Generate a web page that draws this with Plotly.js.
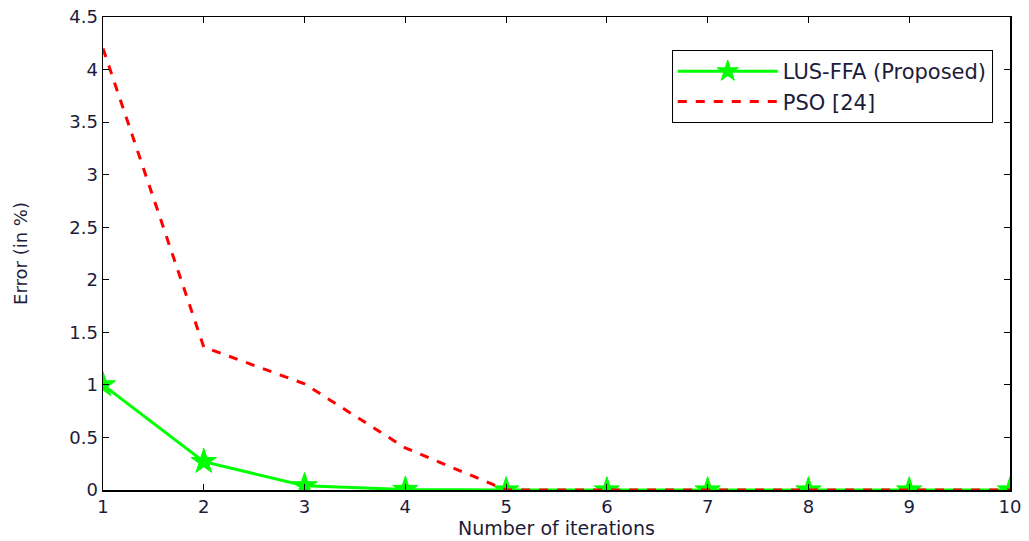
<!DOCTYPE html>
<html>
<head>
<meta charset="utf-8">
<script src="https://cdn.plot.ly/plotly-3.0.1.min.js"></script>
<style>html,body{margin:0;padding:0;background:#fff;}#chart{width:1029px;height:541px;}</style>
</head>
<body>
<div id="chart"></div>
<script>
const iterations = [1, 2, 3, 4, 5, 6, 7, 8, 9, 10];
const lusFfaError = [1.0, 0.27, 0.04, 0.005, 0, 0, 0, 0, 0, 0];
const psoError = [4.2, 1.36, 1.01, 0.4, 0, 0, 0, 0, 0, 0];
const seriesNames = ["LUS-FFA (Proposed)", "PSO [24]"];
const yTicks = [0, 0.5, 1, 1.5, 2, 2.5, 3, 3.5, 4, 4.5];
const yTickText = ["0", "0.5", "1", "1.5", "2", "2.5", "3", "3.5", "4", "4.5"];

const fontFam = "DejaVu Sans, Verdana, sans-serif";
const textColor = "#1c1c3a";

const traces = [
  {
    x: iterations, y: lusFfaError, name: seriesNames[0],
    type: "scatter", mode: "lines+markers",
    line: {color: "#00ff00", width: 3},
    marker: {symbol: "star", size: 19, color: "#00ff00", line: {color: "#00ff00", width: 1}}
  },
  {
    x: iterations, y: psoError, name: seriesNames[1],
    type: "scatter", mode: "lines",
    line: {color: "#ff0000", width: 3, dash: "dash"}
  }
];

const layout = {
  width: 1029, height: 541,
  margin: {l: 103, r: 19, t: 17, b: 51},
  paper_bgcolor: "#ffffff", plot_bgcolor: "#ffffff",
  font: {family: fontFam, size: 18, color: textColor},
  showlegend: true,
  legend: {
    x: 0.981, y: 0.93, xanchor: "right", yanchor: "top",
    bgcolor: "#ffffff", bordercolor: "#000000", borderwidth: 1,
    font: {family: fontFam, size: 21, color: textColor},
    itemwidth: 100,
    tracegroupgap: 0
  },
  xaxis: {
    range: [1, 10], tickmode: "array", tickvals: iterations,
    ticks: "inside", ticklen: 6, tickcolor: "#000", tickwidth: 1,
    showline: true, linecolor: "#000", linewidth: 1.5, mirror: "ticks",
    showgrid: false, zeroline: false,
    tickfont: {family: fontFam, size: 18, color: textColor},
    title: {text: "Number of iterations", font: {family: fontFam, size: 19, color: textColor}, standoff: 4}
  },
  yaxis: {
    range: [0, 4.5], tickmode: "array", tickvals: yTicks, ticktext: yTickText,
    ticks: "inside", ticklen: 6, tickcolor: "#000", tickwidth: 1,
    showline: true, linecolor: "#000", linewidth: 1.5, mirror: "ticks",
    showgrid: false, zeroline: false,
    tickfont: {family: fontFam, size: 18, color: textColor},
    title: {text: "Error (in %)", font: {family: fontFam, size: 18, color: textColor}, standoff: 37}
  }
};

Plotly.newPlot("chart", traces, layout, {displayModeBar: false, staticPlot: true});
</script>
</body>
</html>
